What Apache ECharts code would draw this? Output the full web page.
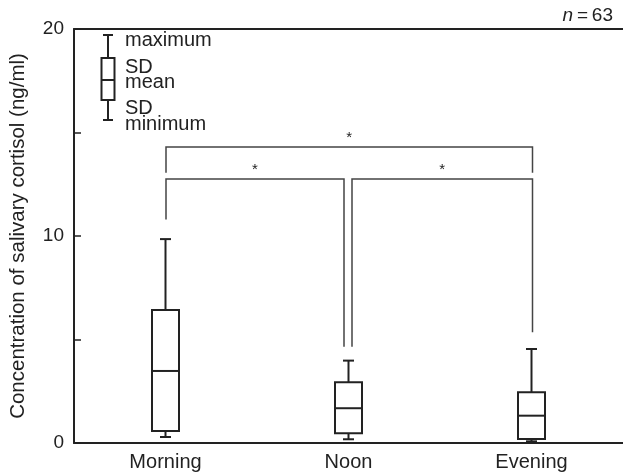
<!DOCTYPE html>
<html>
<head>
<meta charset="utf-8">
<script src="https://cdn.jsdelivr.net/npm/echarts@6/dist/echarts.min.js"></script>
<style>html,body{margin:0;padding:0;background:#fff}#c{width:623px;height:475px}</style>
</head>
<body>
<div id="c"></div>
<script>
// ---- data ----
const categories = ['Morning', 'Noon', 'Evening'];
const minimum = [0.29, 0.18, 0.08];
const sdLow   = [0.58, 0.47, 0.19];
const mean    = [3.48, 1.68, 1.32];
const sdHigh  = [6.43, 2.93, 2.45];
const maximum = [9.85, 3.98, 4.54];
const yTickLabels = ['0', '10', '20'];
// significance brackets: [fromIndex, toIndex, topValue, fromEndValue, toEndValue]
const bracketFrom = [0, 0, 1];
const bracketTo   = [2, 1, 2];
const bracketTop  = [14.3, 12.75, 12.75];
const bracketFromEnd = [13.05, 10.8, 4.65];
const bracketToEnd   = [13.05, 4.65, 5.35];
const bracketMark = ['*', '*', '*'];
const legendLabels = ['maximum', 'SD', 'mean', 'SD', 'minimum'];
const sampleNote = '63';

const FONT = 'Liberation Sans, Arial, Helvetica, sans-serif';
const INK = '#222';

const boxData = categories.map((c, i) => [i, minimum[i], sdLow[i], mean[i], sdHigh[i], maximum[i]]);
const bracketData = bracketFrom.map((f, i) => [f, bracketTo[i], bracketTop[i], bracketFromEnd[i], bracketToEnd[i], i]);

const chart = echarts.init(document.getElementById('c'), null, {renderer: 'canvas'});

function renderBox(params, api) {
  const i = api.value(0);
  const pMin = api.coord([i, api.value(1)]);
  const pLo = api.coord([i, api.value(2)]);
  const pMean = api.coord([i, api.value(3)]);
  const pHi = api.coord([i, api.value(4)]);
  const pMax = api.coord([i, api.value(5)]);
  const x = pMean[0];
  const hw = 13.5, cw = 5.5;
  const st = {stroke: INK, lineWidth: 2, fill: 'none'};
  return {
    type: 'group',
    children: [
      {type: 'line', shape: {x1: x, y1: pHi[1], x2: x, y2: pMax[1]}, style: st},
      {type: 'line', shape: {x1: x - cw, y1: pMax[1], x2: x + cw, y2: pMax[1]}, style: st},
      {type: 'line', shape: {x1: x, y1: pLo[1], x2: x, y2: pMin[1]}, style: st},
      {type: 'line', shape: {x1: x - cw, y1: pMin[1], x2: x + cw, y2: pMin[1]}, style: st},
      {type: 'rect', shape: {x: x - hw, y: pHi[1], width: 2 * hw, height: pLo[1] - pHi[1]}, style: {stroke: INK, lineWidth: 2, fill: '#fff'}},
      {type: 'line', shape: {x1: x - hw, y1: pMean[1], x2: x + hw, y2: pMean[1]}, style: st}
    ]
  };
}

function renderBracket(params, api) {
  const f = api.value(0), t = api.value(1);
  const k = api.value(5);
  const offF = f === 1 ? 3.5 : 0.5;
  const offT = t === 1 ? -4.5 : 1;
  const a = api.coord([f, api.value(2)]);
  const b = api.coord([t, api.value(2)]);
  const aEnd = api.coord([f, api.value(3)]);
  const bEnd = api.coord([t, api.value(4)]);
  const x1 = a[0] + offF, x2 = b[0] + offT, y = a[1];
  const st = {stroke: '#444', lineWidth: 1.5, fill: 'none'};
  return {
    type: 'group',
    children: [
      {type: 'polyline', shape: {points: [[x1, aEnd[1]], [x1, y], [x2, y], [x2, bEnd[1]]]}, style: st},
      {type: 'text', x: (x1 + x2) / 2, y: y - 9, style: {text: bracketMark[k], font: '15px ' + FONT, fill: INK, align: 'center', verticalAlign: 'middle'}}
    ]
  };
}

// legend key (explanatory glyph)
const lx = 108, st2 = {stroke: INK, lineWidth: 2, fill: 'none'};
const legendYs = [40, 67, 82, 108, 124];
const graphics = [
  {type: 'line', shape: {x1: lx, y1: 35, x2: lx, y2: 120}, style: st2},
  {type: 'line', shape: {x1: lx - 5, y1: 35, x2: lx + 5, y2: 35}, style: st2},
  {type: 'line', shape: {x1: lx - 5, y1: 120, x2: lx + 5, y2: 120}, style: st2},
  {type: 'rect', shape: {x: lx - 6.5, y: 58, width: 13, height: 42}, style: {stroke: INK, lineWidth: 2, fill: '#fff'}},
  {type: 'line', shape: {x1: lx - 6.5, y1: 80, x2: lx + 6.5, y2: 80}, style: st2}
];
legendLabels.forEach((t, i) => {
  graphics.push({type: 'text', x: 125, y: legendYs[i], style: {text: t, font: '20px ' + FONT, fill: INK, verticalAlign: 'middle'}});
});
graphics.push({type: 'text', right: 10, top: 6, style: {
  text: '{i|n}\u2009=\u2009' + sampleNote, fill: INK, font: '19px ' + FONT,
  rich: {i: {fontStyle: 'italic', fontSize: 19, fontFamily: FONT, fill: INK}}
}});

chart.setOption({
  animation: false,
  backgroundColor: '#fff',
  graphic: graphics,
  grid: {left: 73, top: 29, bottom: 32, width: 552},
  xAxis: [{
    type: 'category', data: categories, boundaryGap: true,
    axisLine: {lineStyle: {color: INK, width: 2}},
    axisTick: {inside: true, length: 7, lineStyle: {color: INK, width: 1.5}},
    axisLabel: {color: INK, fontSize: 20, fontFamily: FONT, margin: 9}
  }, {
    type: 'category', data: categories, position: 'top',
    axisLine: {show: true, lineStyle: {color: INK, width: 2}},
    axisTick: {show: false}, axisLabel: {show: false}
  }],
  yAxis: {
    type: 'value', min: 0, max: 20, interval: 5,
    name: 'Concentration of salivary cortisol (ng/ml)', nameLocation: 'middle', nameGap: 45,
    nameTextStyle: {color: INK, fontSize: 20.5, fontFamily: FONT},
    axisLine: {show: true, lineStyle: {color: INK, width: 2}},
    axisTick: {show: true, inside: true, length: 7, lineStyle: {color: INK, width: 1.5}},
    splitLine: {show: false},
    axisLabel: {color: INK, fontSize: 19, fontFamily: FONT, margin: 10,
      formatter: v => (v % 10 === 0 ? yTickLabels[v / 10] : '')}
  },
  series: [
    {type: 'custom', renderItem: renderBox, data: boxData, z: 3, encode: {x: 0, y: [1, 2, 3, 4, 5]}},
    {type: 'custom', renderItem: renderBracket, data: bracketData, z: 2, encode: {x: [0, 1], y: [2, 3, 4]}}
  ]
});
</script>
</body>
</html>
